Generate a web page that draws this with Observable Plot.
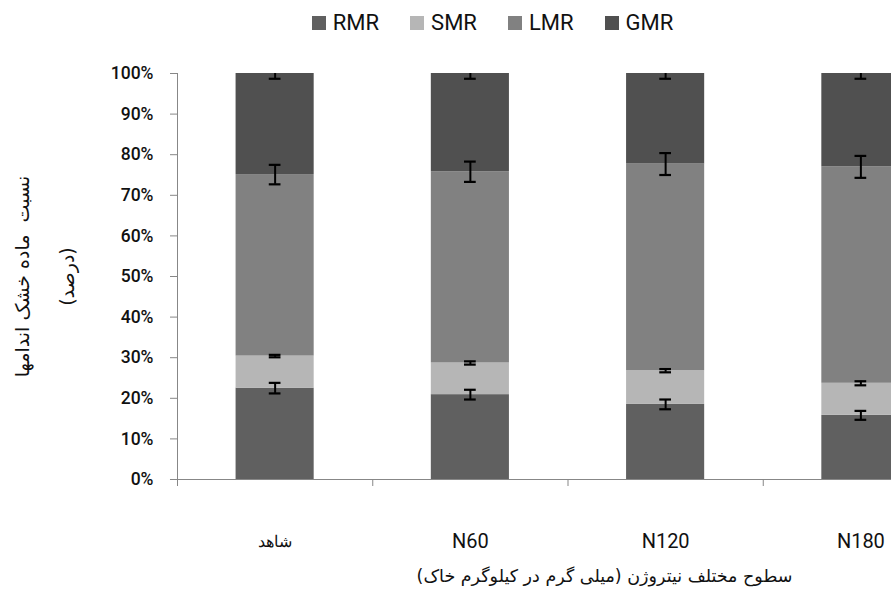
<!DOCTYPE html>
<html>
<head>
<meta charset="utf-8">
<script src="https://cdn.jsdelivr.net/npm/d3@7"></script>
<script src="https://cdn.jsdelivr.net/npm/@observablehq/plot@0.6"></script>
<style>
  html, body { margin: 0; padding: 0; background: #fff; overflow: hidden; }
  #wrap { position: relative; width: 891px; height: 589px; overflow: hidden; }
  #legend { height: 45px; display: flex; justify-content: center; align-items: center; gap: 31px;
            font-family: Roboto, Lato, sans-serif; font-size: 22px; color: #111; padding-left: 94px; box-sizing: border-box; }
  #legend .item { display: flex; align-items: center; gap: 7px; }
  #legend .sw { width: 14px; height: 14px; display: inline-block; }
  svg { overflow: hidden; }
</style>
</head>
<body>
<div id="wrap">
  <div id="legend"></div>
  <div id="chart"></div>
</div>
<script>
// ---- data ----
const categories = ["شاهد", "N60", "N120", "N180"];
const seriesNames = ["RMR", "SMR", "LMR", "GMR"];
const RMR = [22.5, 20.9, 18.5, 15.8];
const SMR = [7.9, 7.8, 8.3, 7.9];
const LMR = [44.7, 47.1, 50.9, 53.3];
const GMR = [24.9, 24.2, 22.3, 23.0];
const RMR_err = [1.3, 1.2, 1.2, 1.1];
const SMR_err = [0.3, 0.4, 0.4, 0.5];
const LMR_err = [2.4, 2.5, 2.7, 2.7];
const GMR_err = [1.3, 1.3, 1.3, 1.3];
const yTicks = [0, 10, 20, 30, 40, 50, 60, 70, 80, 90, 100];
const yTitle1 = "نسبت  ماده خشک اندامها";
const yTitle2 = "(درصد)";
const xTitle = "سطوح مختلف نیتروژن (میلی گرم در کیلوگرم خاک)";
const colors = ["#606060", "#b6b6b6", "#818181", "#505050"];

const values = [RMR, SMR, LMR, GMR];
const errs = [RMR_err, SMR_err, LMR_err, GMR_err];

// stacked table
const table = [];
categories.forEach((c, i) => {
  let base = 0;
  seriesNames.forEach((s, k) => {
    const v = values[k][i];
    table.push({cat: c, i, series: s, y1: base, y2: base + v, err: errs[k][i]});
    base += v;
  });
});
const catTable = categories.map((c, i) => ({cat: c, i}));

// legend
const legend = document.getElementById("legend");
seriesNames.forEach((s, k) => {
  const it = document.createElement("div");
  it.className = "item";
  it.innerHTML = `<span class="sw" style="background:${colors[k]}"></span><span>${s}</span>`;
  legend.appendChild(it);
});

const gray = "#878787";
const capHalf = 0.03;
const latin = "Roboto, Lato, sans-serif";

const plot = Plot.plot({
  width: 891,
  height: 544,
  marginTop: 28,
  marginBottom: 110,
  marginLeft: 177,
  marginRight: 0,
  style: {fontFamily: latin, background: "#fff", color: "#111"},
  x: {type: "linear", domain: [0, categories.length], range: [177, 958]},
  y: {domain: [0, 100]},
  color: {domain: seriesNames, range: colors},
  marks: [
    Plot.rectY(table, {x1: d => d.i + 0.3, x2: d => d.i + 0.7, y1: "y1", y2: "y2", fill: "series", clip: true}),
    // error bars
    Plot.ruleX(table, {x: d => d.i + 0.5, y1: d => d.y2 - d.err, y2: d => d.y2 + d.err, stroke: "#000", strokeWidth: 2, clip: true}),
    Plot.ruleY(table, {y: d => d.y2 - d.err, x1: d => d.i + 0.5 - capHalf, x2: d => d.i + 0.5 + capHalf, stroke: "#000", strokeWidth: 2.2, clip: true}),
    Plot.ruleY(table, {y: d => d.y2 + d.err, x1: d => d.i + 0.5 - capHalf, x2: d => d.i + 0.5 + capHalf, stroke: "#000", strokeWidth: 2.2, clip: true}),
    // axes
    Plot.axisY({ticks: yTicks, tickFormat: d => d + "%", tickSize: 7, tickPadding: 17, stroke: gray, fontSize: 17.5, fontWeight: 500, fill: "#111"}),
    Plot.ruleX([0], {stroke: gray}),
    Plot.ruleY([0], {stroke: gray, x1: -0.036, x2: categories.length, clip: false}),
    Plot.axisX({ticks: d3.range(categories.length), tickFormat: () => "", tickSize: 7, stroke: gray}),
    Plot.text(catTable, {x: d => d.i + 0.5, text: "cat", frameAnchor: "bottom", lineAnchor: "middle", dy: 62, fontSize: d => d.i === 0 ? 16 : 20, fontFamily: d => d.i === 0 ? "DejaVu Sans" : latin, fontWeight: 400, fill: "#111"}),
    Plot.text([xTitle], {frameAnchor: "bottom", lineAnchor: "middle", textAnchor: "middle", dx: 70, dy: 97, fontSize: 17.5, fontFamily: "DejaVu Sans", fill: "#111"}),
    Plot.text([yTitle1], {frameAnchor: "left", textAnchor: "middle", lineAnchor: "middle", dx: -155, dy: 0, rotate: -90, fontSize: 19, fontFamily: "DejaVu Sans", fill: "#111"}),
    Plot.text([yTitle2], {frameAnchor: "left", textAnchor: "middle", lineAnchor: "middle", dx: -110, dy: 0, rotate: -90, fontSize: 19, fontFamily: "DejaVu Sans", fill: "#111"})
  ]
});
document.getElementById("chart").appendChild(plot);
</script>
</body>
</html>
